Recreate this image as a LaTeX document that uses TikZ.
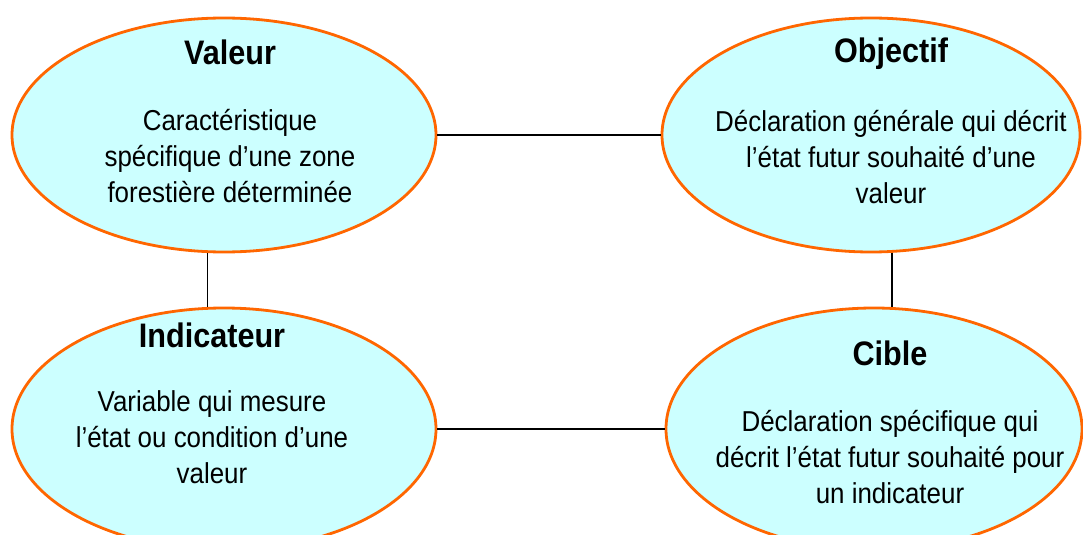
\documentclass[tikz,border=0pt]{standalone}
\usepackage{fontspec}
\setmainfont{Liberation Sans}
\newfontfamily\etroit[FakeStretch=0.9]{Liberation Sans}
\usetikzlibrary{shapes.geometric}
\definecolor{bulle}{HTML}{CCFFFF}
\definecolor{bord}{HTML}{FF6600}

\begin{document}
\begin{tikzpicture}[x=0.5pt,y=-0.5pt,
    bulle/.style={ellipse,draw=bord,fill=bulle,line width=1.4pt,inner sep=0pt},
    lien/.style={line width=0.9pt},
    titre/.style={font=\etroit\fontsize{17}{18}\selectfont\bfseries,anchor=base},
    texte/.style={font=\etroit\fontsize{14.4}{18}\selectfont,align=center}]
                    \clip (0,0) rectangle (1083,535);
                    % Ellipses
                    \node[bulle,minimum width=212pt,minimum height=117pt] (valeur) at (224,135) {};
                    \node[bulle,minimum width=209pt,minimum height=117pt] (objectif) at (871,135) {};
                    \node[bulle,minimum width=212pt,minimum height=121pt] (indicateur) at (224,429) {};
                    \node[bulle,minimum width=208pt,minimum height=121pt] (cible) at (874,429) {};
                    % Liens
                    \draw[lien] (valeur.east) -- (objectif.west);
                    \draw[lien] (indicateur.east) -- (cible.west);
                    \draw[lien] (valeur.262) -- (valeur.262 |- indicateur.north);
                    \draw[lien] (objectif.280) -- (objectif.280 |- cible.north);
                    % Textes
                    \node[titre] (tvaleur) at (230,65) {Valeur};
                    \node[texte] (dvaleur) at (230,156) {Caractéristique\\spécifique d’une zone\\forestière déterminée};
                    \node[titre] (tobjectif) at (891,63) {Objectif};
                    \node[texte] (dobjectif) at (891,157) {Déclaration générale qui décrit\\l’état futur souhaité d’une\\valeur};
                    \node[titre] (tindicateur) at (212,347) {Indicateur};
                    \node[texte] (dindicateur) at (212,437) {Variable qui mesure\\l’état ou condition d’une\\valeur};
                    \node[titre] (tcible) at (890,365) {Cible};
                    \node[texte] (dcible) at (890,457) {Déclaration spécifique qui\\décrit l’état futur souhaité pour\\un indicateur};
                \end{tikzpicture}
\end{document}
